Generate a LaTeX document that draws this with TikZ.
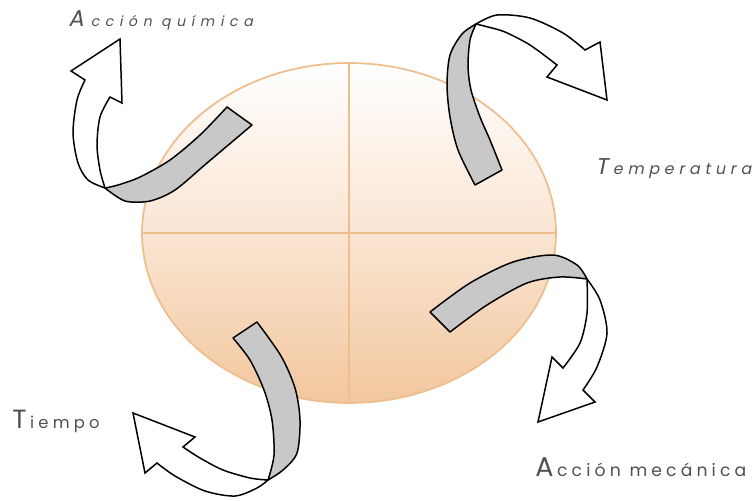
\documentclass[tikz,border=0pt]{standalone}
\usepackage{fontspec}
\usepackage{xcolor}
\usepackage{tikz}
\usetikzlibrary{shapes.geometric}
\newfontfamily\lblfont{Poppins}
\definecolor{platefill}{RGB}{242,199,158}
\definecolor{platemid}{RGB}{250,229,210}
\definecolor{plateline}{RGB}{238,190,142}
\definecolor{ribbongray}{RGB}{200,200,200}
\definecolor{labelgray}{RGB}{80,80,80}

\begin{document}
\begin{tikzpicture}[x=0.02cm,y=-0.02cm,
 plate/.style={ellipse,draw=plateline,line width=1pt,minimum width=8.28cm,minimum height=6.8cm,inner sep=0pt,top color=white,bottom color=platefill,middle color=platemid},
 cross/.style={plateline,line width=0.6pt},
 ribbon/.style={fill=ribbongray,draw=black,line width=0.85pt,line join=round},
 face/.style={fill=white,draw=black,line width=0.85pt},
 lbl/.style={anchor=base west,inner sep=0pt,text=labelgray}
]
\useasboundingbox (0,0) rectangle (756,500);
\node[plate] (plate) at (349,233) {};
\draw[cross] (plate.north) -- (plate.south);
\draw[cross] (plate.west) -- (plate.east);
% top left
\filldraw[ribbon] plot[smooth] coordinates {(227,107) (200,135) (170,160) (140,177) (118,185) (105,188)}
 -- plot[smooth] coordinates {(105,188) (125,201) (150,201) (175,190) (207,163) (252,125)} -- cycle;
\filldraw[face] plot[smooth] coordinates {(105,188) (100,170) (97,145) (100,117) (110,97)}
 -- (122,103) -- (120,39) -- (71,71) -- (85,80)
 -- plot[smooth] coordinates {(85,80) (77,100) (73,133) (78,163) (88,180) (105,188)} -- cycle;
% top right
\filldraw[ribbon] plot[smooth] coordinates {(475,185) (458,150) (450,117) (447,85) (450,55) (462,34) (476,24)}
 -- plot[smooth] coordinates {(476,24) (470,40) (468,66) (471,90) (480,117) (490,140) (502,170)} -- cycle;
\filldraw[face] plot[smooth] coordinates {(476,24) (497,15) (530,18) (563,33) (585,50)}
 -- (600,42) -- (607,100) -- (547,77) -- (557,65)
 -- plot[smooth] coordinates {(557,65) (530,45) (505,32) (488,27) (476,24)} -- cycle;
% bottom right
\filldraw[ribbon] plot[smooth] coordinates {(430,312) (470,283) (513,262) (553,255) (577,265) (587,279)}
 -- plot[smooth] coordinates {(587,279) (560,277) (527,283) (487,305) (450,332)} -- cycle;
\filldraw[face] plot[smooth] coordinates {(587,279) (600,300) (607,333) (597,367) (583,390)}
 -- (595,402) -- (538,422) -- (552,357) -- (563,368)
 -- plot[smooth] coordinates {(563,368) (580,343) (587,313) (587,279)} -- cycle;
% bottom left
\filldraw[ribbon] plot[smooth] coordinates {(233,338) (250,360) (264,390) (272,420) (274,455) (268,480)}
 -- plot[smooth] coordinates {(268,480) (283,470) (297,453) (300,420) (295,388) (281,356) (257,322)} -- cycle;
\filldraw[face] plot[smooth] coordinates {(268,480) (250,478) (223,470) (200,458) (183,447)}
 -- (195,437) -- (133,413) -- (145,473) -- (157,463)
 -- plot[smooth] coordinates {(157,463) (175,476) (205,491) (235,496) (257,488) (268,480)} -- cycle;
% labels
\node[lbl,font=\lblfont\fontsize{8}{10}\selectfont\addfontfeatures{LetterSpace=40,FakeSlant=0.2}] (quimica) at (68,26.5) {{\fontsize{13}{10}\selectfont A}\kern4pt cción química};
\node[lbl,font=\lblfont\fontsize{9}{11}\selectfont\addfontfeatures{LetterSpace=30,FakeSlant=0.2}] (temp) at (595,174) {{\fontsize{13}{11}\selectfont T}\kern3pt emperatura};
\node[lbl,font=\lblfont\fontsize{9.3}{11}\selectfont\addfontfeatures{LetterSpace=26}] (tiempo) at (12,428) {{\fontsize{15}{11}\selectfont T}\kern2pt iempo};
\node[lbl,font=\lblfont\fontsize{9.8}{12}\selectfont\addfontfeatures{LetterSpace=24}] (mecanica) at (535,476.5) {{\fontsize{15.4}{12}\selectfont A}\kern2pt cción mecánica};
\end{tikzpicture}
\end{document}
